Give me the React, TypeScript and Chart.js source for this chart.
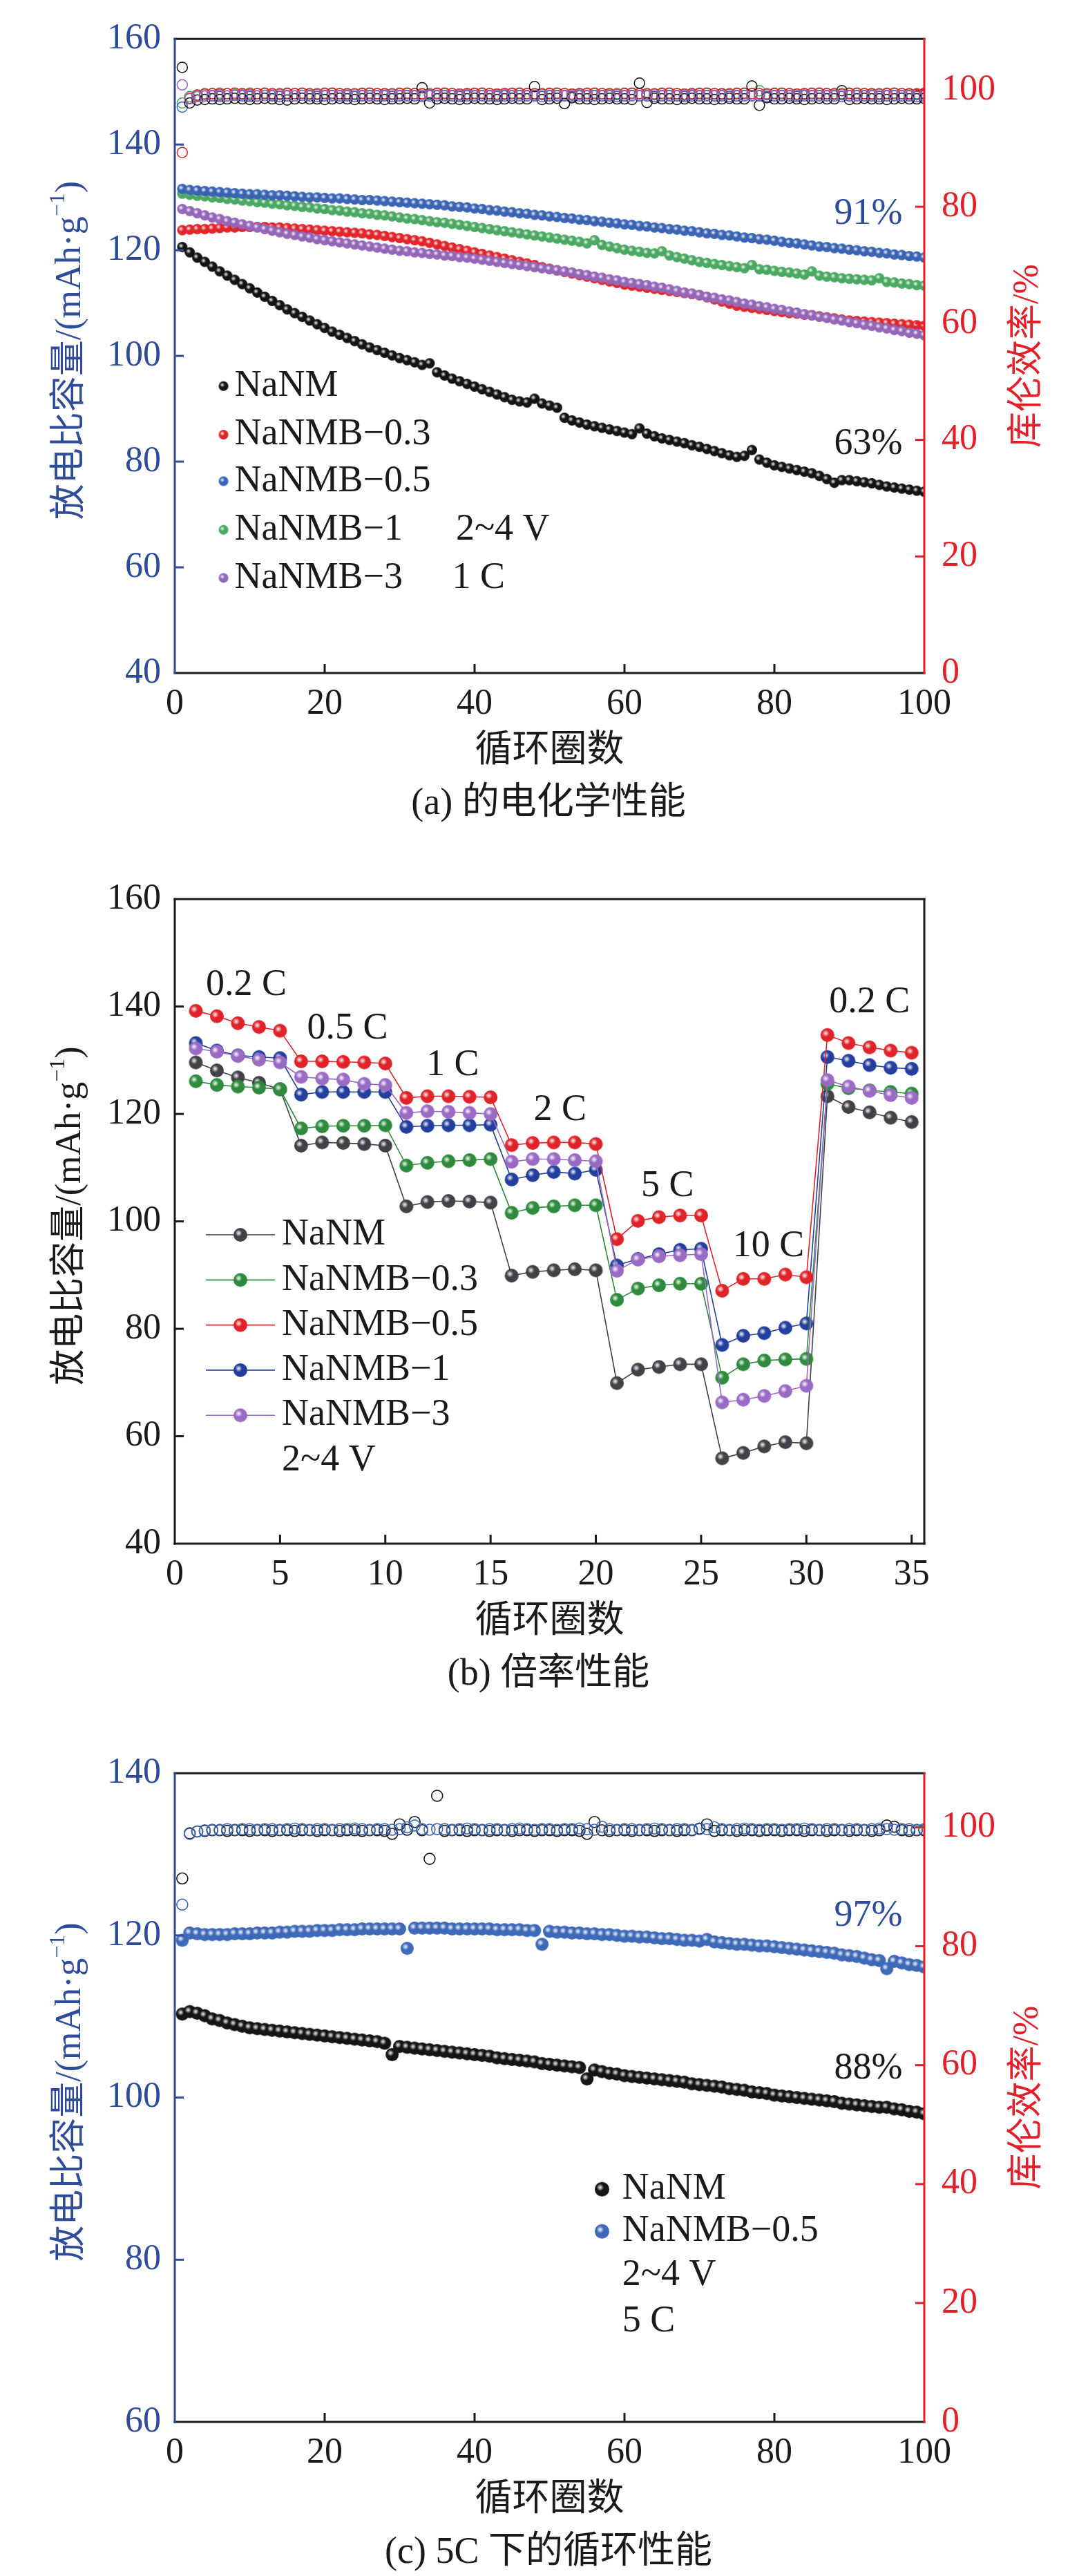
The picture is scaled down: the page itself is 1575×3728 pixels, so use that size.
import React, { useEffect, useRef } from "react";
import { Chart, registerables } from "chart.js";

Chart.register(...registerables);

const FAM = '"Liberation Serif", "Noto Sans CJK SC", serif';
const fnt = (s: number) => `${s}px ${FAM}`;

const AX_BLUE = "#2F4C9B";
const AX_RED = "#E3202A";
const INK = "#1a1a1a";

// ================= Panel (a) data =================
const A_SERIES = ["NaNM", "NaNMB−0.3", "NaNMB−0.5", "NaNMB−1", "NaNMB−3"];
const A_X_TICKS = [0, 20, 40, 60, 80, 100];
const A_Y_TICKS = [40, 60, 80, 100, 120, 140, 160];
const A_Y2_TICKS = [0, 20, 40, 60, 80, 100];

const A_NANM = [
  120.6, 119.6, 118.6, 117.8, 116.9, 116.0, 115.2, 114.4, 113.6, 112.8,
  112.0, 111.2, 110.4, 109.6, 108.8, 108.1, 107.4, 106.7, 106.0, 105.3,
  104.6, 104.0, 103.4, 102.8, 102.2, 101.6, 101.1, 100.6, 100.1, 99.6,
  99.2, 98.8, 98.3, 98.6, 96.9, 96.3, 95.7, 95.2, 94.7, 94.2,
  93.7, 93.2, 92.7, 92.2, 91.7, 91.4, 91.2, 91.9, 91.0, 90.6,
  90.2, 88.3, 87.8, 87.4, 87.0, 86.7, 86.4, 86.1, 85.8, 85.5,
  85.2, 86.3, 85.3, 84.8, 84.4, 84.1, 83.8, 83.5, 83.1, 82.8,
  82.4, 82.0, 81.6, 81.2, 80.9, 81.1, 82.2, 80.4, 79.8, 79.3,
  79.0, 78.7, 78.4, 78.1, 77.8, 77.3, 76.7, 76.0, 76.5, 76.5,
  76.3, 76.1, 75.9, 75.6, 75.3, 75.1, 74.9, 74.7, 74.5, 74.3,
];
const A_NANMB03 = [
  123.8, 123.9, 124.0, 124.0, 124.1, 124.2, 124.3, 124.3, 124.4, 124.4,
  124.4, 124.4, 124.3, 124.3, 124.2, 124.1, 124.0, 123.9, 123.8, 123.7,
  123.6, 123.5, 123.4, 123.3, 123.2, 123.0, 122.9, 122.7, 122.5, 122.3,
  122.1, 121.9, 121.7, 121.4, 121.1, 120.8, 120.5, 120.2, 119.9, 119.6,
  119.3, 119.0, 118.7, 118.4, 118.1, 117.8, 117.5, 117.2, 116.8, 116.5,
  116.2, 115.9, 115.6, 115.3, 115.0, 114.7, 114.4, 114.1, 113.8, 113.5,
  113.3, 113.1, 112.9, 112.7, 112.5, 112.3, 112.1, 111.9, 111.7, 111.5,
  111.1, 110.7, 110.3, 109.9, 109.5, 109.3, 109.1, 108.9, 108.7, 108.5,
  108.3, 108.1, 108.0, 107.8, 107.7, 107.5, 107.3, 107.1, 106.9, 106.7,
  106.6, 106.5, 106.4, 106.3, 106.2, 106.1, 106.0, 105.9, 105.8, 105.7,
];
const A_NANMB05 = [
  131.6, 131.4, 131.3, 131.2, 131.1, 131.0, 130.9, 130.8, 130.7, 130.6,
  130.6, 130.5, 130.4, 130.4, 130.3, 130.2, 130.1, 130.0, 130.0, 129.9,
  129.8, 129.8, 129.7, 129.6, 129.5, 129.5, 129.4, 129.3, 129.2, 129.1,
  129.0, 128.9, 128.8, 128.7, 128.6, 128.5, 128.3, 128.2, 128.1, 127.9,
  127.8, 127.6, 127.5, 127.3, 127.2, 127.0, 126.9, 126.7, 126.6, 126.4,
  126.3, 126.1, 126.0, 125.8, 125.7, 125.5, 125.4, 125.2, 125.1, 124.9,
  124.8, 124.6, 124.5, 124.3, 124.2, 124.0, 123.9, 123.7, 123.6, 123.4,
  123.2, 123.1, 122.9, 122.8, 122.6, 122.4, 122.3, 122.1, 122.0, 121.8,
  121.6, 121.4, 121.3, 121.1, 120.9, 120.7, 120.6, 120.4, 120.3, 120.1,
  120.0, 119.8, 119.7, 119.5, 119.4, 119.2, 119.1, 118.9, 118.8, 118.6,
];
const A_NANMB1 = [
  130.7, 130.5, 130.3, 130.2, 130.0, 129.9, 129.7, 129.6, 129.4, 129.3,
  129.1, 129.0, 128.8, 128.7, 128.5, 128.4, 128.2, 128.1, 127.9, 127.8,
  127.6, 127.5, 127.3, 127.2, 127.0, 126.9, 126.7, 126.6, 126.4, 126.2,
  126.0, 125.9, 125.7, 125.5, 125.3, 125.2, 125.0, 124.8, 124.6, 124.4,
  124.2, 124.0, 123.8, 123.6, 123.4, 123.2, 123.0, 122.8, 122.6, 122.4,
  122.2, 122.0, 121.8, 121.6, 121.3, 121.9, 121.0, 120.7, 120.4, 120.1,
  119.9, 119.7, 119.5, 119.4, 119.8, 119.0, 118.7, 118.4, 118.1, 117.8,
  117.6, 117.4, 117.2, 117.0, 116.8, 116.6, 117.2, 116.4, 116.3, 116.1,
  115.9, 115.8, 115.6, 115.4, 116.0, 115.2, 115.0, 114.9, 114.7, 114.6,
  114.5, 114.4, 114.3, 114.7, 114.0, 113.9, 113.7, 113.6, 113.4, 113.3,
];
const A_NANMB3 = [
  127.8, 127.4, 127.0, 126.6, 126.2, 125.9, 125.5, 125.2, 124.9, 124.6,
  124.3, 124.0, 123.7, 123.4, 123.1, 122.9, 122.6, 122.4, 122.1, 121.9,
  121.7, 121.5, 121.3, 121.1, 120.9, 120.7, 120.5, 120.3, 120.1, 119.9,
  119.8, 119.6, 119.5, 119.3, 119.2, 119.0, 118.9, 118.7, 118.6, 118.4,
  118.2, 118.0, 117.8, 117.6, 117.4, 117.2, 117.0, 116.8, 116.6, 116.4,
  116.2, 116.0, 115.8, 115.5, 115.3, 115.0, 114.8, 114.5, 114.3, 114.0,
  113.8, 113.6, 113.4, 113.1, 112.9, 112.6, 112.3, 112.0, 111.8, 111.5,
  111.2, 111.0, 110.7, 110.5, 110.2, 109.9, 109.7, 109.4, 109.2, 108.9,
  108.7, 108.4, 108.2, 107.9, 107.7, 107.4, 107.2, 106.9, 106.7, 106.4,
  106.2, 105.9, 105.7, 105.4, 105.2, 104.9, 104.7, 104.4, 104.2, 103.9,
];
const A_CE_NANM = [
  103.9, 97.8, 98.3, 98.4, 98.5, 98.4, 98.5, 98.6, 98.5, 98.4,
  98.5, 98.6, 98.5, 98.4, 98.3, 98.5, 98.6, 98.5, 98.5, 98.4,
  98.5, 98.6, 98.5, 98.4, 98.5, 98.6, 98.5, 98.4, 98.5, 98.5,
  98.6, 98.5, 100.4, 97.8, 98.5, 98.6, 98.5, 98.4, 98.5, 98.6,
  98.5, 98.5, 98.4, 98.5, 98.6, 98.5, 98.5, 100.6, 98.4, 98.5,
  98.6, 97.7, 98.7, 98.5, 98.5, 98.4, 98.5, 98.6, 98.5, 98.5,
  98.4, 101.2, 97.9, 98.6, 98.5, 98.5, 98.4, 98.5, 98.6, 98.5,
  98.5, 98.4, 98.5, 98.6, 98.5, 98.5, 100.7, 97.4, 98.7, 98.5,
  98.5, 98.6, 98.5, 98.4, 98.5, 98.6, 98.5, 98.5, 99.9, 98.4,
  98.5, 98.6, 98.5, 98.5, 98.4, 98.5, 98.6, 98.5, 98.5, 98.6,
];
const A_CE_NANMB03 = [
  89.3, 98.6, 99.1, 99.3, 99.4, 99.3, 99.4, 99.5, 99.4, 99.3,
  99.4, 99.5, 99.4, 99.3, 99.4, 99.4, 99.5, 99.4, 99.3, 99.4,
  99.5, 99.4, 99.4, 99.3, 99.4, 99.5, 99.4, 99.4, 99.3, 99.4,
  99.5, 99.4, 99.4, 99.3, 99.4, 99.5, 99.4, 99.3, 99.4, 99.4,
  99.5, 99.4, 99.3, 99.4, 99.4, 99.5, 99.4, 99.4, 99.3, 99.4,
  99.5, 99.4, 99.3, 99.4, 99.4, 99.5, 99.4, 99.4, 99.3, 99.4,
  99.5, 99.4, 99.4, 99.3, 99.4, 99.5, 99.4, 99.3, 99.4, 99.4,
  99.5, 99.4, 99.4, 99.3, 99.4, 99.5, 99.4, 99.4, 99.3, 99.4,
  99.5, 99.4, 99.3, 99.4, 99.4, 99.5, 99.4, 99.4, 99.3, 99.4,
  99.5, 99.4, 99.4, 99.3, 99.4, 99.5, 99.4, 99.4, 99.3, 99.4,
];
const A_CE_NANMB05 = [
  97.1, 98.6, 98.9, 99.0, 99.0, 98.9, 99.0, 99.1, 99.0, 98.9,
  99.0, 99.1, 99.0, 98.9, 99.0, 99.0, 99.1, 99.0, 98.9, 99.0,
  99.1, 99.0, 99.0, 98.9, 99.0, 99.1, 99.0, 99.0, 98.9, 99.0,
  99.1, 99.0, 98.9, 99.0, 99.0, 99.1, 99.0, 98.9, 99.0, 99.0,
  99.1, 99.0, 98.9, 99.0, 99.0, 99.1, 99.0, 99.0, 98.9, 99.0,
  99.1, 99.0, 98.9, 99.0, 99.0, 99.1, 99.0, 99.0, 98.9, 99.0,
  99.1, 99.0, 99.0, 98.9, 99.0, 99.1, 99.0, 98.9, 99.0, 99.0,
  99.1, 99.0, 99.0, 98.9, 99.0, 99.1, 99.0, 99.0, 98.9, 99.0,
  99.1, 99.0, 98.9, 99.0, 99.0, 99.1, 99.0, 99.0, 98.9, 99.0,
  99.1, 99.0, 99.0, 98.9, 99.0, 99.1, 99.0, 99.0, 98.9, 99.0,
];
const A_CE_NANMB1 = [
  97.8, 98.9, 99.2, 99.4, 99.4, 99.5, 99.4, 99.3, 99.4, 99.5,
  99.4, 99.4, 99.3, 99.4, 99.5, 99.4, 99.4, 99.3, 99.4, 99.5,
  99.4, 99.4, 99.3, 99.4, 99.5, 99.4, 99.4, 99.3, 99.4, 99.5,
  99.4, 99.4, 99.3, 99.4, 99.5, 99.4, 99.4, 99.3, 99.4, 99.5,
  99.4, 99.4, 99.3, 99.4, 99.5, 99.4, 99.4, 99.3, 99.4, 99.5,
  99.4, 99.4, 99.3, 99.4, 99.5, 99.4, 99.4, 99.3, 99.4, 99.5,
  99.4, 99.4, 99.3, 99.4, 99.5, 99.4, 99.4, 99.3, 99.4, 99.5,
  99.4, 99.4, 99.3, 99.4, 99.5, 99.4, 99.4, 99.9, 99.4, 99.5,
  99.4, 99.4, 99.3, 99.4, 99.5, 99.4, 99.4, 99.3, 99.4, 99.5,
  99.4, 99.4, 99.3, 99.4, 99.5, 99.4, 99.4, 99.3, 99.4, 99.5,
];
const A_CE_NANMB3 = [
  100.9, 98.5, 98.9, 99.0, 99.1, 99.1, 99.0, 99.1, 99.2, 99.1,
  99.0, 99.1, 99.1, 99.2, 99.1, 99.0, 99.1, 99.1, 99.2, 99.1,
  99.0, 99.1, 99.1, 99.2, 99.1, 99.0, 99.1, 99.1, 99.2, 99.1,
  99.0, 99.1, 99.1, 99.2, 99.1, 99.0, 99.1, 99.1, 99.2, 99.1,
  99.0, 99.1, 99.1, 99.2, 99.1, 99.0, 99.1, 99.1, 99.2, 99.1,
  99.0, 99.1, 99.1, 99.2, 99.1, 99.0, 99.1, 99.1, 99.2, 99.1,
  99.0, 99.1, 99.1, 99.2, 99.1, 99.0, 99.1, 99.1, 99.2, 99.1,
  99.0, 99.1, 99.1, 99.2, 99.1, 99.0, 99.1, 99.1, 99.2, 99.1,
  99.0, 99.1, 99.1, 99.2, 99.1, 99.0, 99.1, 99.1, 99.2, 99.1,
  99.0, 99.1, 99.1, 99.2, 99.1, 99.0, 99.1, 99.1, 99.2, 99.1,
];

// ================= Panel (b) data =================
const B_SERIES = ["NaNM", "NaNMB−0.3", "NaNMB−0.5", "NaNMB−1", "NaNMB−3"];
const B_CYCLES = [
  1, 2, 3, 4, 5, 6, 7, 8, 9, 10, 11, 12, 13, 14, 15, 16, 17, 18,
  19, 20, 21, 22, 23, 24, 25, 26, 27, 28, 29, 30, 31, 32, 33, 34, 35,
];
const B_X_TICKS = [0, 5, 10, 15, 20, 25, 30, 35];
const B_Y_TICKS = [40, 60, 80, 100, 120, 140, 160];
const B_NANM = [
  129.6, 128.1, 126.8, 125.8, 124.6, 114.1, 114.7, 114.6, 114.4, 114.1,
  102.8, 103.6, 103.8, 103.7, 103.5, 89.9, 90.6, 90.9, 91.1, 90.9,
  69.9, 72.4, 72.9, 73.4, 73.4, 55.9, 56.9, 58.1, 58.9, 58.7,
  123.3, 121.3, 120.3, 119.3, 118.5,
];
const B_NANMB03 = [
  126.1, 125.4, 125.1, 124.9, 124.6, 117.3, 117.7, 117.8, 117.8, 117.9,
  110.4, 110.9, 111.2, 111.4, 111.6, 101.6, 102.5, 102.8, 103.0, 103.0,
  85.4, 87.5, 88.1, 88.4, 88.4, 70.9, 73.4, 74.1, 74.3, 74.4,
  125.6, 124.8, 124.4, 124.1, 123.8,
];
const B_NANMB05 = [
  139.2, 138.2, 136.9, 136.2, 135.5, 129.8, 129.8, 129.7, 129.6, 129.4,
  123.0, 123.3, 123.3, 123.2, 123.1, 114.2, 114.6, 114.7, 114.7, 114.4,
  96.7, 100.1, 100.8, 101.1, 101.1, 87.1, 89.3, 89.3, 90.1, 89.6,
  134.7, 133.2, 132.4, 131.8, 131.4,
];
const B_NANMB1 = [
  133.2, 131.8, 130.9, 130.6, 130.4, 123.6, 124.1, 124.1, 124.1, 124.1,
  117.6, 117.8, 117.9, 117.9, 118.0, 107.8, 108.6, 109.2, 108.9, 109.6,
  91.8, 93.0, 93.9, 94.7, 94.9, 77.0, 78.7, 79.2, 80.2, 81.0,
  130.6, 129.9, 129.1, 128.6, 128.4,
];
const B_NANMB3 = [
  132.2, 131.6, 130.8, 130.1, 129.6, 126.9, 126.6, 126.4, 125.6, 125.4,
  120.2, 120.5, 120.4, 120.2, 120.0, 111.1, 111.6, 111.6, 111.4, 111.2,
  90.8, 92.9, 93.5, 93.7, 93.9, 66.3, 66.8, 67.5, 68.4, 69.4,
  126.3, 125.1, 124.3, 123.5, 123.0,
];
const B_RATES = ["0.2 C", "0.5 C", "1 C", "2 C", "5 C", "10 C", "0.2 C"];

// ================= Panel (c) data =================
const C_SERIES = ["NaNM", "NaNMB−0.5"];
const C_X_TICKS = [0, 20, 40, 60, 80, 100];
const C_Y_TICKS = [60, 80, 100, 120, 140];
const C_Y2_TICKS = [0, 20, 40, 60, 80, 100];
const C_NANMB05 = [
  119.4, 120.3, 120.2, 120.1, 120.1, 120.1, 120.1, 120.2, 120.2, 120.2,
  120.3, 120.3, 120.3, 120.4, 120.4, 120.5, 120.5, 120.5, 120.6, 120.6,
  120.6, 120.7, 120.7, 120.7, 120.8, 120.8, 120.8, 120.8, 120.8, 120.8,
  118.4, 120.9, 120.9, 120.9, 120.9, 120.9, 120.8, 120.8, 120.8, 120.8,
  120.8, 120.8, 120.7, 120.7, 120.7, 120.7, 120.6, 120.6, 118.9, 120.5,
  120.4, 120.4, 120.3, 120.3, 120.2, 120.2, 120.1, 120.1, 120.0, 119.9,
  119.9, 119.8, 119.8, 119.7, 119.6, 119.6, 119.5, 119.4, 119.4, 119.3,
  119.5, 119.2, 119.1, 119.0, 118.9, 118.9, 118.8, 118.7, 118.7, 118.6,
  118.5, 118.4, 118.3, 118.2, 118.1, 118.0, 117.9, 117.8, 117.6, 117.5,
  117.4, 117.2, 117.0, 116.9, 115.9, 116.8, 116.6, 116.4, 116.3, 116.1,
];
const C_NANM = [
  110.3, 110.6, 110.4, 110.1, 109.7, 109.5, 109.2, 109.0, 108.8, 108.6,
  108.5, 108.4, 108.3, 108.2, 108.1, 108.0, 107.9, 107.8, 107.7, 107.6,
  107.5, 107.4, 107.3, 107.2, 107.1, 107.0, 106.9, 106.7, 105.3, 106.3,
  106.2, 106.1, 106.0, 105.9, 105.8, 105.7, 105.6, 105.5, 105.4, 105.3,
  105.2, 105.1, 104.9, 104.8, 104.7, 104.6, 104.5, 104.4, 104.2, 104.1,
  104.0, 103.9, 103.8, 103.7, 102.3, 103.4, 103.2, 103.0, 102.9, 102.7,
  102.6, 102.5, 102.4, 102.3, 102.2, 102.1, 102.0, 101.9, 101.7, 101.6,
  101.5, 101.4, 101.3, 101.1, 101.0, 100.9, 100.7, 100.6, 100.5, 100.3,
  100.2, 100.1, 100.0, 99.9, 99.8, 99.7, 99.6, 99.5, 99.3, 99.2,
  99.1, 99.0, 98.9, 98.8, 98.8, 98.6, 98.5, 98.3, 98.2, 98.0,
];
const C_CE_NANM = [
  91.4, 99.0, 99.3, 99.4, 99.5, 99.5, 99.4, 99.5, 99.5, 99.4,
  99.5, 99.5, 99.4, 99.5, 99.5, 99.4, 99.5, 99.5, 99.4, 99.5,
  99.5, 99.4, 99.5, 99.5, 99.4, 99.5, 99.5, 99.4, 98.9, 100.5,
  99.6, 100.9, 99.5, 94.7, 105.3, 99.4, 99.5, 99.5, 99.4, 99.5,
  99.5, 99.4, 99.5, 99.5, 99.4, 99.5, 99.5, 99.4, 99.5, 99.5,
  99.4, 99.5, 99.5, 99.4, 98.9, 100.9, 99.5, 99.4, 99.5, 99.5,
  99.4, 99.5, 99.5, 99.4, 99.5, 99.5, 99.4, 99.5, 99.5, 99.8,
  100.5, 99.4, 99.5, 99.5, 99.4, 99.5, 99.5, 99.4, 99.5, 99.5,
  99.4, 99.5, 99.5, 99.4, 99.5, 99.5, 99.4, 99.5, 99.5, 99.4,
  99.5, 99.5, 99.4, 99.5, 100.3, 100.1, 99.5, 99.4, 99.5, 99.5,
];
const C_CE_NANMB05 = [
  87.0, 98.9, 99.3, 99.5, 99.6, 99.6, 99.7, 99.6, 99.7, 99.7,
  99.6, 99.7, 99.7, 99.6, 99.7, 99.8, 99.7, 99.6, 99.7, 99.7,
  99.6, 99.7, 99.7, 99.8, 99.7, 99.6, 99.7, 99.7, 99.6, 99.7,
  100.0, 100.3, 99.7, 99.6, 99.7, 99.7, 99.6, 99.7, 99.8, 99.7,
  99.6, 99.7, 99.7, 99.6, 99.7, 99.8, 99.7, 99.6, 99.7, 99.7,
  99.6, 99.7, 99.7, 99.8, 99.7, 99.6, 100.1, 99.7, 99.6, 99.7,
  99.7, 99.6, 99.7, 99.8, 99.7, 99.6, 99.7, 99.7, 99.6, 99.7,
  99.7, 100.0, 99.7, 99.6, 99.7, 99.8, 99.7, 99.6, 99.7, 99.7,
  99.6, 99.7, 99.7, 99.8, 99.7, 99.6, 99.7, 99.7, 99.6, 99.7,
  99.7, 99.6, 99.7, 99.8, 99.7, 99.6, 99.7, 99.7, 99.6, 99.7,
];

// cycle index used as the x category of the 100-cycle panels
const CYCLES_100 = Array.from({ length: 100 }, (_, i) => i + 1);

// ================= helpers =================
const pts = (xs: number[], ys: number[]) => ys.map((y, i) => ({ x: xs[i], y }));

function sphere(color: string, r: number): HTMLCanvasElement {
  const s = Math.ceil(r * 2 + 2);
  const c = document.createElement("canvas");
  c.width = s;
  c.height = s;
  const g = c.getContext("2d") as CanvasRenderingContext2D;
  const m = s / 2;
  g.beginPath();
  g.arc(m, m, r, 0, Math.PI * 2);
  g.fillStyle = color;
  g.fill();
  const hx = m - r * 0.25;
  const hy = m - r * 0.25;
  const hl = g.createRadialGradient(hx, hy, 0, hx, hy, r * 0.5);
  hl.addColorStop(0, "rgba(255,255,255,0.95)");
  hl.addColorStop(0.45, "rgba(255,255,255,0.55)");
  hl.addColorStop(1, "rgba(255,255,255,0)");
  g.fillStyle = hl;
  g.beginPath();
  g.arc(m, m, r, 0, Math.PI * 2);
  g.fill();
  return c;
}

type Seg = { t: string; s: number; r?: number };
function drawRich(ctx: CanvasRenderingContext2D, segs: Seg[], cx: number, cy: number, color: string, rotate: boolean) {
  ctx.save();
  ctx.translate(cx, cy);
  if (rotate) ctx.rotate(-Math.PI / 2);
  let w = 0;
  segs.forEach((g) => {
    ctx.font = fnt(g.s);
    w += ctx.measureText(g.t).width;
  });
  let px = -w / 2;
  ctx.fillStyle = color;
  ctx.textAlign = "left";
  ctx.textBaseline = "middle";
  segs.forEach((g) => {
    ctx.font = fnt(g.s);
    ctx.fillText(g.t, px, -(g.r || 0));
    px += ctx.measureText(g.t).width;
  });
  ctx.restore();
}

function txt(ctx: CanvasRenderingContext2D, s: string, x: number, y: number, color: string, size: number, align: CanvasTextAlign = "left") {
  ctx.save();
  ctx.font = fnt(size);
  ctx.fillStyle = color;
  ctx.textAlign = align;
  ctx.textBaseline = "middle";
  ctx.fillText(s, x, y);
  ctx.restore();
}

const Y_TITLE: Seg[] = [
  { t: "放电比容量/(mAh·g", s: 52 },
  { t: "−1", s: 32, r: 17 },
  { t: ")", s: 52 },
];
const Y2_TITLE: Seg[] = [{ t: "库伦效率/%", s: 52 }];

type FrameOpts = {
  left: string; right: string; top: string; bottom: string;
  xt: number[]; yt: number[]; y2t?: number[];
};
function drawFrame(chart: any, o: FrameOpts) {
  const { ctx, chartArea: a, scales } = chart;
  const sx = scales.x, sy = scales.y, sy2 = scales.y2;
  ctx.save();
  ctx.lineWidth = 3;
  ctx.lineCap = "butt";
  const L = (x1: number, y1: number, x2: number, y2: number, c: string) => {
    ctx.strokeStyle = c;
    ctx.beginPath();
    ctx.moveTo(x1, y1);
    ctx.lineTo(x2, y2);
    ctx.stroke();
  };
  const T = 13;
  o.xt.forEach((v) => {
    if (v <= sx.min || v >= sx.max) return;
    const p = sx.getPixelForValue(v);
    L(p, a.bottom, p, a.bottom - T, o.bottom);
  });
  o.yt.forEach((v) => {
    if (v <= sy.min || v >= sy.max) return;
    const p = sy.getPixelForValue(v);
    L(a.left, p, a.left + T, p, o.left);
  });
  if (o.y2t && sy2) {
    o.y2t.forEach((v) => {
      if (v <= sy2.min || v >= sy2.max) return;
      const p = sy2.getPixelForValue(v);
      L(a.right, p, a.right - T, p, o.right);
    });
  }
  L(a.left - 1.5, a.top, a.right + 1.5, a.top, o.top);
  L(a.left - 1.5, a.bottom, a.right + 1.5, a.bottom, o.bottom);
  L(a.left, a.top - 1.5, a.left, a.bottom + 1.5, o.left);
  L(a.right, a.top - 1.5, a.right, a.bottom + 1.5, o.right);
  ctx.restore();
}

function drawTitles(chart: any, leftColor: string, withRight: boolean, caption: string) {
  const { ctx, chartArea: a } = chart;
  const midY = (a.top + a.bottom) / 2;
  drawRich(ctx, Y_TITLE, 102, midY - 8, leftColor, true);
  if (withRight) drawRich(ctx, Y2_TITLE, 1488, midY, AX_RED, true);
  txt(ctx, "循环圈数", (a.left + a.right) / 2, a.bottom + 114, INK, 54, "center");
  txt(ctx, caption, 794, a.bottom + 190, INK, 54, "center");
}

function axis(min: number, max: number, ticks: number[], color: string, position: string, fit: { w?: number; h?: number }, padding: number) {
  return {
    type: "linear",
    position,
    min,
    max,
    afterBuildTicks: (s: any) => {
      s.ticks = ticks.map((v) => ({ value: v }));
    },
    afterFit: (s: any) => {
      if (fit.w !== undefined) s.width = fit.w;
      if (fit.h !== undefined) s.height = fit.h;
    },
    grid: { display: false, drawTicks: false },
    border: { display: false },
    ticks: {
      color,
      font: { family: FAM, size: 52, lineHeight: 1.2 },
      padding,
      autoSkip: false,
      maxRotation: 0,
      minRotation: 0,
      callback: (v: any) => String(v),
    },
  };
}

function baseOptions(padding: any) {
  return {
    animation: false,
    responsive: false,
    maintainAspectRatio: false,
    devicePixelRatio: 1,
    events: [],
    layout: { padding },
    plugins: { legend: { display: false }, tooltip: { enabled: false } },
  };
}

function capDs(label: string, xs: number[], ys: number[], color: string, r: number, order: number, yAxisID = "y") {
  return {
    label,
    data: pts(xs, ys),
    yAxisID,
    showLine: false,
    pointStyle: sphere(color, r),
    pointRadius: r,
    pointHoverRadius: r,
    borderColor: color,
    backgroundColor: color,
    order,
  };
}
function ceDs(label: string, xs: number[], ys: number[], color: string, r: number, order: number, lw = 1.5) {
  return {
    label,
    data: pts(xs, ys),
    yAxisID: "y2",
    showLine: false,
    pointStyle: "circle",
    pointRadius: r,
    pointHoverRadius: r,
    pointBorderWidth: lw,
    pointBorderColor: color,
    pointBackgroundColor: "rgba(0,0,0,0)",
    borderColor: color,
    backgroundColor: "rgba(0,0,0,0)",
    order,
  };
}

// ================= Panel (a) =================
const A_COL = ["#141414", "#E1262B", "#3A63B3", "#4BA862", "#9466B8"];
const A_LEG_Y = [94.3, 85.1, 76.3, 67.1, 58.0];
const A_LEG_X = 6.5;

function makeA() {
  const caps = [A_NANM, A_NANMB03, A_NANMB05, A_NANMB1, A_NANMB3];
  const ces = [A_CE_NANM, A_CE_NANMB03, A_CE_NANMB05, A_CE_NANMB1, A_CE_NANMB3];
  const capOrder = [4, 3, 5, 6, 2];
  const legendImgs = A_COL.map((c) => sphere(c, 7));
  const datasets: any[] = [];
  ces.forEach((d, i) => datasets.push(ceDs(A_SERIES[i] + " CE", CYCLES_100, d, A_COL[i], 7.5, i === 4 ? 0 : 1)));
  caps.forEach((d, i) => datasets.push(capDs(A_SERIES[i], CYCLES_100, d, A_COL[i], 7.5, capOrder[i])));
  const plugin = {
    id: "decorA",
    afterDraw(chart: any) {
      const { ctx, scales } = chart;
      drawFrame(chart, { left: AX_BLUE, right: AX_RED, top: INK, bottom: INK, xt: A_X_TICKS, yt: A_Y_TICKS, y2t: A_Y2_TICKS });
      drawTitles(chart, AX_BLUE, true, "(a) 的电化学性能");
      const mx = scales.x.getPixelForValue(A_LEG_X);
      A_SERIES.forEach((s, i) => {
        const py = scales.y.getPixelForValue(A_LEG_Y[i]);
        const img = legendImgs[i];
        ctx.drawImage(img, mx - img.width / 2, py - img.height / 2);
        txt(ctx, s, mx + 16, py, INK, 54);
      });
      txt(ctx, "2~4 V", scales.x.getPixelForValue(37.5), scales.y.getPixelForValue(A_LEG_Y[3]), INK, 54);
      txt(ctx, "1 C", scales.x.getPixelForValue(37.0), scales.y.getPixelForValue(A_LEG_Y[4]), INK, 54);
      txt(ctx, "91%", scales.x.getPixelForValue(97.1), scales.y.getPixelForValue(126.8), AX_BLUE, 54, "right");
      txt(ctx, "63%", scales.x.getPixelForValue(97.1), scales.y.getPixelForValue(83.3), INK, 54, "right");
    },
  };
  return {
    type: "line",
    data: { datasets },
    options: {
      ...baseOptions({ top: 32, left: 0, right: 0, bottom: 0 }),
      scales: {
        x: axis(0, 100, A_X_TICKS, INK, "bottom", { h: 276 }, 14),
        y: axis(40, 160, A_Y_TICKS, AX_BLUE, "left", { w: 253 }, 20),
        y2: axis(0, 108.8, A_Y2_TICKS, AX_RED, "right", { w: 237 }, 25),
      },
    },
    plugins: [plugin],
  };
}

// ================= Panel (b) =================
const B_COL = ["#404247", "#2E8A3C", "#E02328", "#233E9C", "#9A6BC4"];
const B_LEG_Y = [97.5, 89.1, 80.7, 72.3, 63.9];
const B_RATE_POS = [
  [3.4, 144.0], [8.2, 135.9], [13.2, 129.0], [18.3, 120.7], [23.4, 106.5], [28.2, 95.4], [33.0, 140.7],
];

function makeB() {
  const series = [B_NANM, B_NANMB03, B_NANMB05, B_NANMB1, B_NANMB3];
  const order = [4, 2, 1, 3, 0];
  const imgs = B_COL.map((c) => sphere(c, 10));
  const datasets = series.map((d, i) => ({
    label: B_SERIES[i],
    data: pts(B_CYCLES, d),
    yAxisID: "y",
    showLine: true,
    borderColor: B_COL[i],
    borderWidth: 1.6,
    tension: 0,
    fill: false,
    pointStyle: imgs[i],
    pointRadius: 10,
    pointHoverRadius: 10,
    order: order[i],
  }));
  const plugin = {
    id: "decorB",
    afterDraw(chart: any) {
      const { ctx, chartArea: a, scales } = chart;
      drawFrame(chart, { left: INK, right: INK, top: INK, bottom: INK, xt: B_X_TICKS, yt: B_Y_TICKS });
      drawTitles(chart, INK, false, "(b) 倍率性能");
      B_SERIES.forEach((s, i) => {
        const py = scales.y.getPixelForValue(B_LEG_Y[i]);
        ctx.save();
        ctx.strokeStyle = B_COL[i];
        ctx.lineWidth = 1.6;
        ctx.beginPath();
        ctx.moveTo(a.left + 45, py);
        ctx.lineTo(a.left + 145, py);
        ctx.stroke();
        ctx.restore();
        const img = imgs[i];
        ctx.drawImage(img, a.left + 95 - img.width / 2, py - img.height / 2);
        txt(ctx, s, a.left + 155, py, INK, 54);
      });
      txt(ctx, "2~4 V", a.left + 155, scales.y.getPixelForValue(55.5), INK, 54);
      B_RATES.forEach((r, i) => {
        txt(ctx, r, scales.x.getPixelForValue(B_RATE_POS[i][0]), scales.y.getPixelForValue(B_RATE_POS[i][1]), INK, 54, "center");
      });
    },
  };
  return {
    type: "line",
    data: { datasets },
    options: {
      ...baseOptions({ top: 41, left: 0, right: 237, bottom: 0 }),
      scales: {
        x: axis(0, 35.6, B_X_TICKS, INK, "bottom", { h: 276 }, 14),
        y: axis(40, 160, B_Y_TICKS, INK, "left", { w: 253 }, 20),
      },
    },
    plugins: [plugin],
  };
}

// ================= Panel (c) =================
const C_COL = ["#151515", "#3E69B8"];
const C_LEG_Y = [88.7, 83.5, 78.1, 72.4];

function makeC() {
  const legImgs = C_COL.map((c) => sphere(c, 10.5));
  const datasets: any[] = [
    ceDs(C_SERIES[0] + " CE", CYCLES_100, C_CE_NANM, C_COL[0], 8, 1, 1.6),
    ceDs(C_SERIES[1] + " CE", CYCLES_100, C_CE_NANMB05, C_COL[1], 8, 0, 1.6),
    capDs(C_SERIES[0], CYCLES_100, C_NANM, C_COL[0], 9.5, 3),
    capDs(C_SERIES[1], CYCLES_100, C_NANMB05, C_COL[1], 9.5, 2),
  ];
  const plugin = {
    id: "decorC",
    afterDraw(chart: any) {
      const { ctx, scales } = chart;
      drawFrame(chart, { left: AX_BLUE, right: AX_RED, top: INK, bottom: INK, xt: C_X_TICKS, yt: C_Y_TICKS, y2t: C_Y2_TICKS });
      drawTitles(chart, AX_BLUE, true, "(c) 5C 下的循环性能");
      const mx = scales.x.getPixelForValue(57.0);
      const tx = scales.x.getPixelForValue(59.7);
      C_SERIES.forEach((s, i) => {
        const py = scales.y.getPixelForValue(C_LEG_Y[i]);
        const img = legImgs[i];
        ctx.drawImage(img, mx - img.width / 2, py - img.height / 2);
        txt(ctx, s, tx, py, INK, 54);
      });
      txt(ctx, "2~4 V", tx, scales.y.getPixelForValue(C_LEG_Y[2]), INK, 54);
      txt(ctx, "5 C", tx, scales.y.getPixelForValue(C_LEG_Y[3]), INK, 54);
      txt(ctx, "97%", scales.x.getPixelForValue(97.1), scales.y.getPixelForValue(122.4), AX_BLUE, 54, "right");
      txt(ctx, "88%", scales.x.getPixelForValue(97.1), scales.y.getPixelForValue(103.6), INK, 54, "right");
    },
  };
  return {
    type: "line",
    data: { datasets },
    options: {
      ...baseOptions({ top: 50, left: 0, right: 0, bottom: 0 }),
      scales: {
        x: axis(0, 100, C_X_TICKS, INK, "bottom", { h: 223 }, 14),
        y: axis(60, 140, C_Y_TICKS, AX_BLUE, "left", { w: 253 }, 20),
        y2: axis(0, 109.1, C_Y2_TICKS, AX_RED, "right", { w: 237 }, 25),
      },
    },
    plugins: [plugin],
  };
}

function ChartCanvas({ top, height, make }: { top: number; height: number; make: () => any }) {
  const ref = useRef<HTMLCanvasElement | null>(null);
  useEffect(() => {
    const chart = new Chart(ref.current as HTMLCanvasElement, make());
    return () => chart.destroy();
  }, [make]);
  return (
    <canvas
      ref={ref}
      width={1575}
      height={height}
      style={{ position: "absolute", left: 0, top, width: 1575, height, display: "block" }}
    />
  );
}

export default function App() {
  useEffect(() => {
    document.body.style.margin = "0";
  }, []);
  return (
    <div style={{ position: "absolute", left: 0, top: 0, width: 1575, height: 3728, background: "#fff", overflow: "hidden" }}>
      <ChartCanvas top={0} height={1250} make={makeA} />
      <ChartCanvas top={1250} height={1260} make={makeB} />
      <ChartCanvas top={2510} height={1218} make={makeC} />
    </div>
  );
}
